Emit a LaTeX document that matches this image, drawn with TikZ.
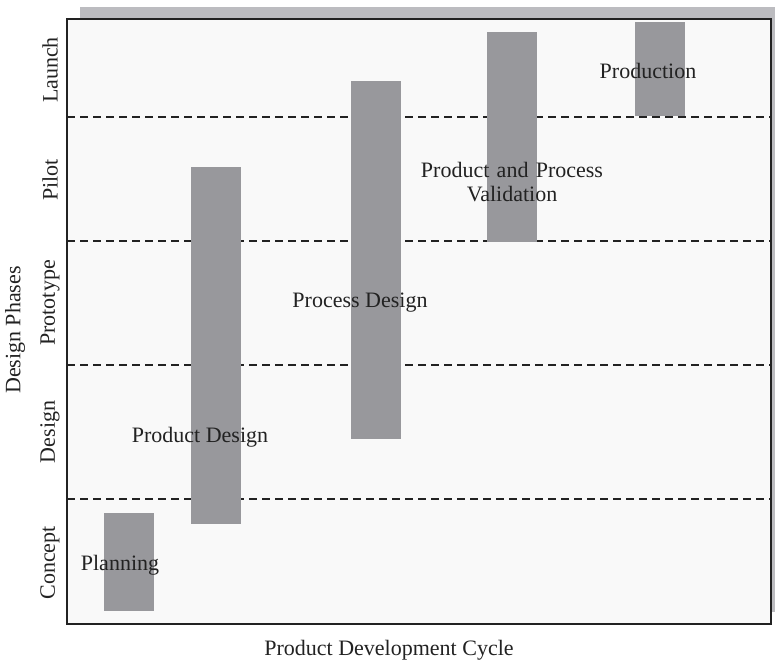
\documentclass[tikz,border=0pt]{standalone}
\usepackage{fontspec}
\setmainfont{Liberation Serif}
\definecolor{shadowgray}{HTML}{BCBCC0}
\definecolor{panelbg}{HTML}{F9F9F9}
\definecolor{bargray}{HTML}{98989C}
\definecolor{inkgray}{HTML}{222222}
\begin{document}
\begin{tikzpicture}[x=1pt,y=-1pt,
  every node/.style={text=inkgray,font=\fontsize{22}{25}\selectfont,inner sep=0pt},
  phasebar/.style={fill=bargray,draw=none},
  phaseline/.style={draw=inkgray,line width=1.4pt,dash pattern=on 8pt off 5pt},
  phaselabel/.style={rotate=90,anchor=center},
  tasklabel/.style={align=center,anchor=center}]
\useasboundingbox (0,0) rectangle (775,664);
% drop shadow and chart panel
\fill[shadowgray] (80,7) rectangle (775,612);
\fill[panelbg] (67,19) rectangle (771,624);
% phase boundaries
\draw[phaseline] (67,117) -- (771,117);
\draw[phaseline] (67,241) -- (771,241);
\draw[phaseline] (67,365) -- (771,365);
\draw[phaseline] (67,499) -- (771,499);
% activity bars
\fill[phasebar] (104,513) rectangle (154,611);
\fill[phasebar] (191,167) rectangle (241,524);
\fill[phasebar] (351,81) rectangle (401,439);
\fill[phasebar] (487,32) rectangle (537,242);
\fill[phasebar] (635,22) rectangle (685,116);
% panel frame
\draw[inkgray,line width=1.5pt] (67,19) rectangle (771,624);
% activity labels
\node[tasklabel] (planning) at (120,565) {Planning};
\node[tasklabel] (proddesign) at (200,437) {Product Design};
\node[tasklabel] (procdesign) at (360,303) {Process Design};
\node[tasklabel,text width=220pt] (validation) at (512,182) {Product and Process\\[-1pt]Validation};
\node[tasklabel] (production) at (648,71) {Production};
% phase labels
\node[phaselabel] (launch) at (50,70) {Launch};
\node[phaselabel] (pilot) at (50,180) {Pilot};
\node[phaselabel] (prototype) at (50,303) {Prototype};
\node[phaselabel] (design) at (50,432) {Design};
\node[phaselabel] (concept) at (50,563) {Concept};
% axis titles
\node (xtitle) at (389,650) {Product Development Cycle};
\node[phaselabel] (ytitle) at (15,330) {Design Phases};
\end{tikzpicture}
\end{document}
